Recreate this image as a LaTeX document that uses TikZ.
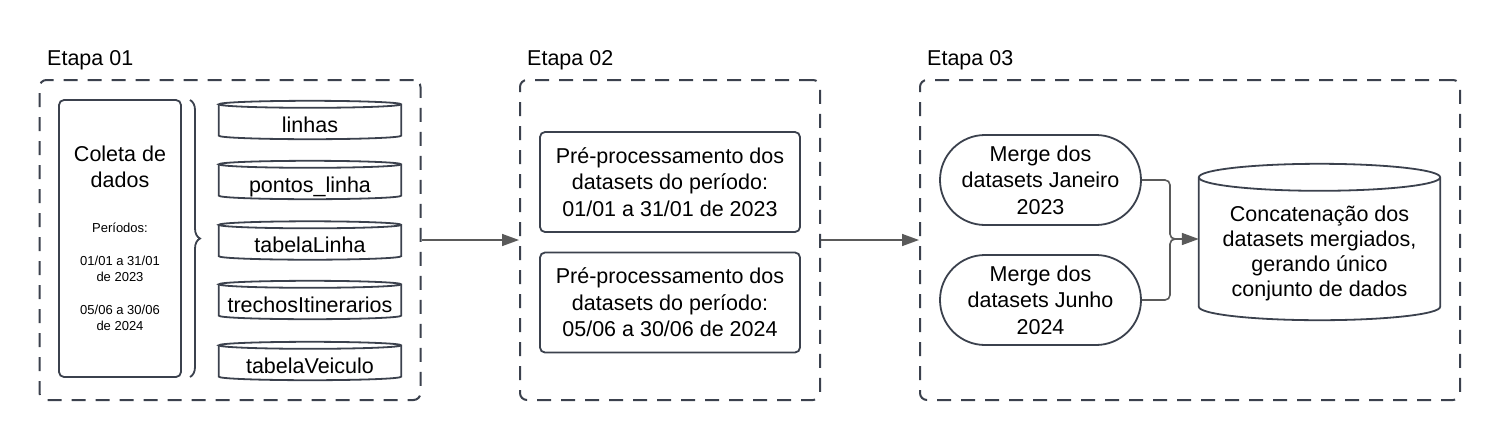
\documentclass[tikz,border=0pt]{standalone}
\usepackage{fontspec}
\setmainfont{Liberation Sans}
\usetikzlibrary{arrows.meta,calc,decorations.pathreplacing}
\definecolor{stroke}{HTML}{3B414D}
\definecolor{conncol}{HTML}{5A5A5A}
\newcommand\bigfont{\fontsize{21.5}{26.5}\selectfont}
\newcommand\cylout[2]{%
  \draw[shapeline] let \p1=(#1.north west), \p2=(#1.south east), \n1={(\x2-\x1)/2} in
    (\x1,\y1-#2pt) -- (\x1,\y2+#2pt)
    arc[start angle=180,end angle=360,x radius=\n1,y radius=#2pt]
    -- (\x2,\y1-#2pt)
    arc[start angle=0,end angle=180,x radius=\n1,y radius=#2pt]
    arc[start angle=180,end angle=360,x radius=\n1,y radius=#2pt];}
\tikzset{
  shapeline/.style={draw=stroke, line width=1.8pt},
  dbox/.style={draw=stroke, line width=2pt, dash pattern=on 14pt off 10pt, rounded corners=7pt, inner sep=0pt},
  rbox/.style={shapeline, rounded corners=5pt, inner sep=0pt, align=center, font=\bigfont},
  stadium/.style={shapeline, rounded corners=45pt, inner sep=0pt, align=center, font=\bigfont, minimum width=201pt, minimum height=90pt},
  smallcyl/.style={inner sep=0pt, minimum width=182pt, minimum height=38pt, text height=26pt, text depth=2pt, font=\bigfont},
  stagelabel/.style={anchor=base west, inner sep=0pt, font=\fontsize{21.5}{26}\selectfont},
  conn/.style={draw=conncol, line width=1.6pt},
  arr/.style={conn, -{Triangle[length=17pt,width=12pt]}},
}
\begin{document}
\begin{tikzpicture}[x=1pt,y=1pt]
\useasboundingbox (0,0) rectangle (1500,-440);
% stage boxes
\node[dbox, minimum width=381pt, minimum height=320pt] (b1) at (230,-240) {};
\node[dbox, minimum width=300pt, minimum height=320pt] (b2) at (670,-240) {};
\node[dbox, minimum width=540pt, minimum height=320pt] (b3) at (1190,-240) {};
\node[stagelabel] (l1) at (47,-65) {Etapa 01};
\node[stagelabel] (l2) at (527,-65) {Etapa 02};
\node[stagelabel] (l3) at (927,-65) {Etapa 03};
% stage 1
\node[rbox, minimum width=122pt, minimum height=277pt] (coleta) at (120,-238.5) {};
\node[align=center, font=\bigfont, inner sep=0pt] (coletat) at (120,-167) {Coleta de\\dados};
\node[align=center, font=\fontsize{13}{16.3}\selectfont, inner sep=0pt] (periodos) at (120,-277) {Per\'iodos:\\[16.3pt]01/01 a 31/01\\de 2023\\[16.3pt]05/06 a 30/06\\de 2024};
\draw[shapeline, decorate, decoration={brace, amplitude=10pt}] (190,-100) coordinate (br1) -- (190,-377) coordinate (br2);
\node[smallcyl] (c1) at (310,-120) {linhas};
\node[smallcyl] (c2) at (310,-180) {pontos\_linha};
\node[smallcyl] (c3) at (310,-240.5) {tabelaLinha};
\node[smallcyl] (c4) at (310,-300) {trechosItinerarios};
\node[smallcyl] (c5) at (310,-361) {tabelaVeiculo};
\cylout{c1}{3.5}
\cylout{c2}{3.5}
\cylout{c3}{3.5}
\cylout{c4}{3.5}
\cylout{c5}{3.5}
% stage 2
\node[rbox, minimum width=260pt, minimum height=100pt] (p1) at (670,-182) {Pr\'e-processamento dos\\datasets do per\'iodo:\\01/01 a 31/01 de 2023};
\node[rbox, minimum width=260pt, minimum height=100pt] (p2) at (670,-302.5) {Pr\'e-processamento dos\\datasets do per\'iodo:\\05/06 a 30/06 de 2024};
% stage 3
\node[stadium] (m1) at (1040.5,-180) {Merge dos\\datasets Janeiro\\2023};
\node[stadium] (m2) at (1040.5,-300) {Merge dos\\datasets Junho\\2024};
\node[inner sep=0pt, minimum width=241pt, minimum height=156pt] (cc) at (1319.5,-242) {};
\cylout{cc}{13.5}
\node[align=center, font=\fontsize{21.5}{25}\selectfont, inner sep=0pt] (cct) at (1319.5,-253) {Concatena\c{c}\~ao dos\\datasets mergiados,\\gerando \'unico\\conjunto de dados};
% connectors
\draw[arr] (b1.east) -- (b2.west);
\draw[arr] (b2.east) -- (b3.west);
\coordinate (j) at (1170,-239);
\draw[arr, rounded corners=5pt] (m1.east) -| (j) -- (j -| cc.west);
\draw[conn, rounded corners=5pt] (m2.east) -| (j) -- ++(8,0);
\end{tikzpicture}
\end{document}
